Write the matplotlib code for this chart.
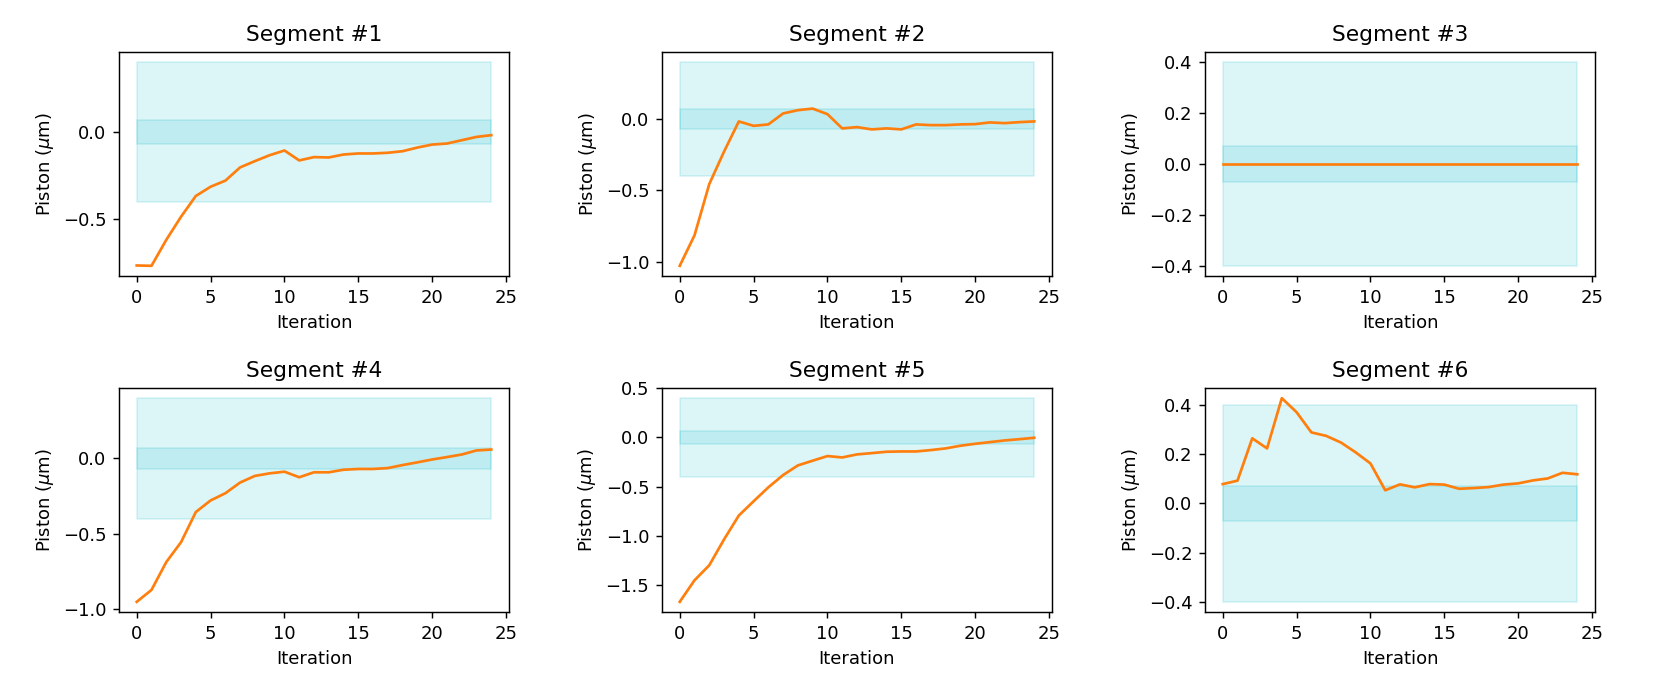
import numpy as np
import matplotlib
matplotlib.use("Agg")
import matplotlib.pyplot as plt
from matplotlib.ticker import MultipleLocator

iterations = list(range(25))

seg1 = [-0.767, -0.769, -0.62, -0.487, -0.368, -0.315, -0.28, -0.204, -0.168, -0.134,
        -0.107, -0.164, -0.145, -0.147, -0.13, -0.124, -0.124, -0.12, -0.111, -0.09,
        -0.073, -0.067, -0.048, -0.029, -0.019]
seg2 = [-1.03, -0.816, -0.456, -0.228, -0.016, -0.047, -0.037, 0.04, 0.063, 0.074,
        0.035, -0.065, -0.056, -0.072, -0.065, -0.072, -0.037, -0.042, -0.042, -0.037,
        -0.035, -0.023, -0.028, -0.021, -0.016]
seg3 = [0.0] * 25
seg4 = [-0.952, -0.873, -0.688, -0.556, -0.356, -0.279, -0.231, -0.160, -0.116, -0.099,
        -0.088, -0.125, -0.092, -0.092, -0.075, -0.070, -0.070, -0.064, -0.044, -0.026,
        -0.007, 0.009, 0.026, 0.053, 0.059]
seg5 = [-1.672, -1.453, -1.30, -1.037, -0.794, -0.649, -0.507, -0.382, -0.284, -0.236,
        -0.189, -0.203, -0.172, -0.159, -0.145, -0.142, -0.142, -0.128, -0.111, -0.084,
        -0.064, -0.047, -0.030, -0.017, -0.003]
seg6 = [0.078, 0.092, 0.264, 0.223, 0.427, 0.370, 0.288, 0.274, 0.247, 0.207,
        0.162, 0.053, 0.077, 0.065, 0.078, 0.076, 0.059, 0.062, 0.066, 0.076,
        0.081, 0.093, 0.101, 0.124, 0.118]

segments = [seg1, seg2, seg3, seg4, seg5, seg6]
titles = ["Segment #1", "Segment #2", "Segment #3", "Segment #4", "Segment #5", "Segment #6"]
ytick_steps = [0.5, 0.5, 0.2, 0.5, 0.5, 0.2]
outer_tol = 0.4
inner_tol = 0.07

dpi = 130
fig = plt.figure(figsize=(1661 / dpi, 692 / dpi), dpi=dpi)

lefts = [119 / 1661, 662 / 1661, 1205 / 1661]
bottoms = [1 - 276 / 692, 1 - 612 / 692]
w = 390 / 1661
h = 224 / 692

x = np.array(iterations)
for k, (vals, title, step) in enumerate(zip(segments, titles, ytick_steps)):
    r, c = divmod(k, 3)
    ax = fig.add_axes([lefts[c], bottoms[r], w, h])
    ax.fill_between(x, -outer_tol, outer_tol, color="tab:cyan", alpha=0.15)
    ax.fill_between(x, -inner_tol, inner_tol, color="tab:cyan", alpha=0.15)
    ax.plot(x, vals, color="tab:orange", lw=1.5)
    ax.set_title(title, fontsize=12)
    ax.set_xlabel("Iteration", fontsize=10)
    ax.set_ylabel(r"Piston ($\mu$m)", fontsize=10)
    ax.set_xticks([0, 5, 10, 15, 20, 25])
    ax.yaxis.set_major_locator(MultipleLocator(step))

fig.savefig("out.png", dpi=dpi)
